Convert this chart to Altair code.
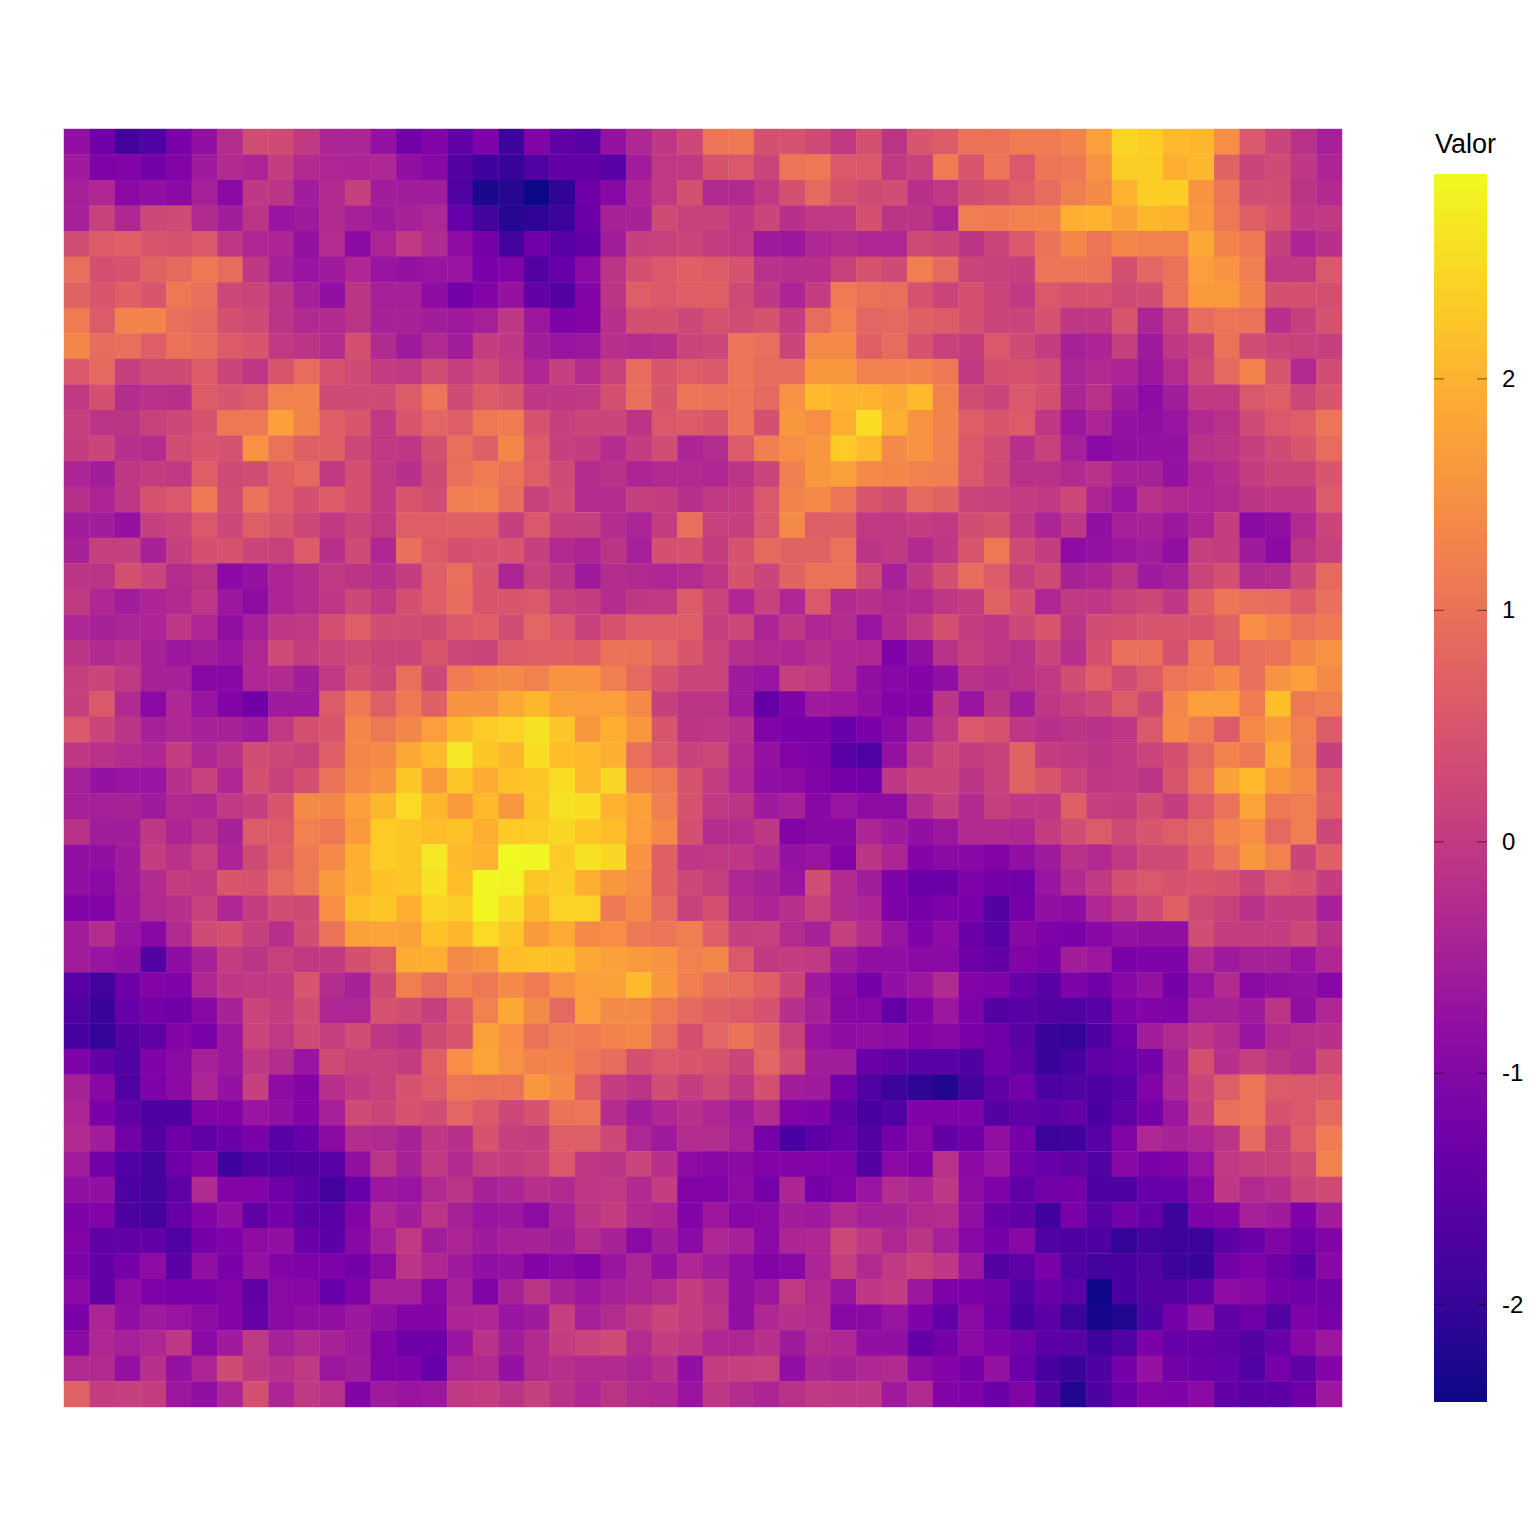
import altair as alt
import pandas as pd

R00 = [-0.8,-1.3,-1.85,-1.7,-1.15,-0.8,-0.25,0.35,0.3,0,-0.4,-0.4,-0.75,-1.25,-1.05,-1.5,-1.1,-1.95,-1.05,-1.5,-1.6,-0.75,-0.35,-0.05,0.25,1.05,1.1,0.4,0.45,0.3,0,0.4,-0.1,0.5,0.6,1,1,1.15,1.15,1.3,1.7,2.45,2.35,2.1,2.05,1.45,0.55,0.2,-0.15,-0.5]
R01 = [-0.6,-1.1,-1.05,-1.25,-1.05,-0.6,-0.3,-0.4,0.05,-0.3,-0.35,-0.4,-0.35,-0.8,-0.95,-1.65,-1.9,-2.0,-1.7,-1.45,-1.45,-1.6,-0.55,0,0,0.45,0.55,0.2,1.05,1.1,0.55,0.55,0,0.15,1.15,0.5,1.05,0.55,1.05,1.1,1.5,2.35,2.35,1.95,2.05,0.75,0.2,0.3,-0.05,-0.4]
R02 = [-0.5,-0.35,-0.9,-0.8,-0.9,-0.5,-0.9,-0.05,-0.1,-0.55,-0.3,0.1,-0.55,-0.55,-0.55,-1.7,-2.3,-2.2,-2.42,-2.1,-1.3,-0.95,-0.4,0,0.4,-0.3,-0.3,0,0.4,0.85,0.45,0.3,0.35,-0.2,0,0.35,0.45,0.65,0.9,1.2,1.4,2.0,2.35,2.35,1.55,1.05,0.35,0.35,-0.1,-0.3]
R03 = [-0.5,0.15,-0.35,0.25,0.3,-0.3,-0.55,-0.1,-0.7,-0.6,-0.3,-0.5,-0.6,-0.45,-0.35,-1.4,-1.85,-2.2,-2.1,-1.95,-1.35,-0.45,-0.45,0.3,0.15,0.15,-0.05,0.2,-0.2,0,0,0.4,-0.1,-0.1,-0.4,1.2,1.15,1.25,1.3,1.95,2.0,1.75,2.05,2.0,1.6,1.1,0.7,0.45,-0.05,0]
R04 = [0.35,0.6,0.7,0.5,0.45,0.55,-0.05,-0.35,-0.4,-0.75,-0.25,-0.9,-0.4,0,-0.3,-0.85,-1.2,-1.85,-1.3,-1.6,-1.45,-0.55,0.1,0.15,0.2,0.05,0,-0.6,-0.65,-0.35,-0.25,-0.35,-0.35,0.3,0.2,-0.1,0.2,0.55,1.0,1.35,1.05,1.35,1.25,1.25,1.85,1.3,1.1,0.1,-0.4,-0.2]
R05 = [0.95,0.4,0.45,0.75,0.85,1.1,0.9,-0.05,-0.5,-0.7,-0.6,-0.35,-0.7,-0.75,-0.7,-0.7,-1.15,-1.05,-1.65,-1.4,-0.9,-0.1,0.4,0.55,0.7,0.6,0.45,-0.15,-0.2,-0.2,0.15,0.45,0.3,1.2,0.85,0.2,0.15,0.1,1.05,1.05,1.0,0.4,0.8,1.0,1.7,1.55,1.2,0,0,0.55]
R06 = [0.75,0.5,0.7,0.5,1.1,0.95,0.25,0.2,-0.1,-0.5,-0.8,-0.1,-0.5,-0.5,-0.85,-1.25,-1.0,-0.75,-1.45,-1.65,-1.0,-0.1,0.65,0.55,0.65,0.7,0.3,-0.05,-0.4,0.05,1.15,1.0,0.95,0.45,0.2,0.4,0.2,0,0.55,0.45,0.45,0.3,0.35,1.0,1.65,1.65,1.3,0.4,0.4,0.4]
R07 = [1.15,0.6,1.3,1.3,0.95,0.85,0.4,0.3,-0.1,-0.3,-0.3,-0.1,-0.45,-0.45,-0.55,-0.6,-0.5,-0.05,-0.65,-1.1,-1.0,-0.2,0.4,0.4,0.25,0.45,0.35,0.45,0.05,0.9,1.25,0.8,0.85,0.7,0.6,0.4,0.2,0.2,0.45,-0.05,-0.05,0.5,-0.4,0.15,0.9,1.05,1.0,-0.2,0.1,0.45]
R08 = [1.35,0.9,0.95,0.65,1.0,0.9,0.6,0.5,0,-0.1,-0.25,0.4,-0.3,-0.6,-0.3,-0.55,0.05,-0.05,-0.55,-0.7,-0.65,-0.2,-0.25,-0.2,0.2,0.25,1.05,0.95,0.2,1.4,1.4,0.7,0.9,0.45,0.15,0.05,0.55,0.3,0.05,-0.45,-0.4,0.1,-0.6,-0.05,0.2,1.0,0.35,0.2,0.15,0.1]
R09 = [0.55,0.85,0.1,0.3,0.3,0.6,0.2,-0.05,0.5,0.9,0.45,0.3,0.05,0,0.35,0.1,0.3,0.05,-0.35,0.1,-0.25,0.15,0.9,0.5,0.65,0.55,1.05,0.9,0.9,1.6,1.6,1.25,1.25,1.3,1.1,0,0.4,0.45,0.35,-0.4,-0.3,-0.4,-0.65,-0.25,0.3,0.85,1.3,0.5,-0.3,0.35]
R10 = [0,0.4,-0.25,-0.15,-0.2,0.6,0.5,0.6,1.25,1.3,0.3,0.3,0.3,0.6,1.05,0.3,0.6,0.5,-0.05,-0.05,0,0.4,0.95,0.5,1.05,1.0,1.05,0.85,1.5,2.1,2.0,2.0,1.85,2.1,1.3,0.35,0.2,0.55,0.4,-0.4,-0.15,-0.6,-0.85,-0.55,0,0,0.55,0.65,0.25,0.5]
R11 = [0.1,-0.1,-0.1,0.15,0.25,0.45,1.1,1.1,1.7,1.3,0.65,0.5,0,0.5,0.8,0.65,1.1,1.15,0.45,0.1,0.2,0.2,-0.1,0.55,0.6,0.5,1.05,0.4,1.6,1.45,1.95,2.55,1.95,1.55,1.3,0.65,0.5,0.6,-0.05,-0.65,-0.4,-0.75,-0.8,-0.7,-0.3,-0.15,0.3,0.55,0.65,1.05]
R12 = [0.05,0.2,-0.2,-0.25,0.35,0.5,0.45,1.5,1.0,0.7,0.7,0.25,0,-0.05,0.4,0.95,0.7,1.35,0.6,0.1,0.05,-0.25,0.05,0.35,-0.4,-0.25,0.6,1.2,1.45,1.6,2.3,2.1,1.4,1.55,1.25,0.55,0.35,-0.2,0.15,-0.5,-0.9,-0.8,-0.75,-0.75,-0.15,-0.1,0.1,0.3,0.5,0.9]
R13 = [-0.4,-0.55,-0.05,0.05,0,0.65,0.3,0.35,0.7,0.85,0,0.4,0,-0.2,0.3,0.95,1.15,1.0,0.65,0.3,-0.25,-0.15,-0.4,-0.3,-0.3,-0.35,-0.1,0.2,1.2,1.6,1.75,1.4,1.35,1.25,1.2,0.55,0.3,-0.15,-0.15,-0.3,-0.15,-0.5,-0.45,-0.75,-0.4,-0.25,0.05,0.2,0.2,0.5]
R14 = [-0.2,-0.4,-0.05,0.45,0.55,1.1,0.35,1.0,0.65,0.4,0.6,0.4,0,0.5,0.35,1.2,1.25,0.9,0.15,0.35,-0.25,-0.25,0.1,0.05,-0.2,0,0.05,0.55,1.3,1.4,1.05,0.5,0.35,0.85,0.75,0.2,0.15,0.05,0,0.25,-0.4,-0.7,-0.15,-0.3,-0.35,-0.3,-0.1,-0.05,-0.05,0.6]
R15 = [-0.55,-0.55,-0.75,0.1,0.2,0.55,0.25,0.65,0.5,0.25,0,0.2,0,0.65,0.65,0.7,0.7,0.1,0.55,0.1,0.1,-0.25,-0.4,0.05,0.95,0.15,0.1,0.55,1.4,0.65,0.7,0,0,0.05,0,0.35,0.45,0,-0.4,-0.05,-0.8,-0.5,-0.45,-0.65,-0.4,0.05,-0.9,-0.8,-0.3,0.2]
R16 = [-0.45,0.1,0.1,-0.45,0.1,0.4,0.45,0.2,0.15,0.6,-0.2,0.3,-0.35,0.95,0.6,0.4,0.45,0.5,0.1,-0.3,-0.4,-0.1,-0.5,0.4,0.45,0.05,0.45,0.85,0.75,0.75,1.0,-0.1,0,-0.3,-0.05,0.5,1.1,0.3,0.05,-0.85,-0.75,-0.65,-0.55,-0.8,0.1,0.05,-0.6,-0.9,-0.1,0.15]
R17 = [-0.1,-0.1,0.4,0.2,-0.25,-0.1,-0.9,-0.75,-0.4,-0.25,0,-0.1,-0.2,0.05,0.65,0.95,0.5,-0.4,0.15,-0.1,-0.6,-0.25,-0.3,-0.35,-0.25,-0.05,0.45,0.2,0.75,1.0,1.0,0.3,-0.5,-0.05,0.4,0.9,0.6,0.1,0.3,-0.45,-0.4,-0.1,-0.6,-0.5,0.2,0.4,-0.3,-0.25,0.25,0.85]
R18 = [0,-0.35,-0.55,-0.4,-0.3,-0.05,-0.65,-0.85,-0.4,-0.25,-0.05,0.25,0,0.4,0.65,0.9,0.5,0.5,0.55,0.15,0.05,-0.25,-0.05,0,0.6,0.2,-0.35,0.15,-0.35,0.55,-0.3,-0.2,-0.3,-0.3,-0.05,0.05,0.75,0.4,-0.35,0,-0.05,0.15,0.25,-0.05,0.7,1.05,0.95,0.9,0.6,0.95]
R19 = [-0.35,-0.45,-0.4,-0.4,-0.05,-0.35,-0.8,-0.5,-0.05,0,0.4,0.65,0.35,0.35,0.3,0.55,0.65,0.35,0.8,0.55,0.15,0.45,0.65,0.65,0.65,0.1,0.25,-0.4,-0.05,-0.35,-0.25,-0.7,-0.3,0,0.4,0.05,-0.05,0.25,0.5,-0.1,0.35,0.4,0.5,0.5,0.5,0.75,1.45,1.3,1.0,1.1]
R20 = [-0.1,-0.3,-0.2,-0.45,-0.65,-0.55,-0.7,-0.35,0.3,0.05,0.2,0.3,0.2,0.2,0.5,0.25,0.2,0.6,0.65,0.7,0.6,1.0,1.0,0.8,0.5,0.2,-0.2,-0.3,-0.35,-0.2,-0.35,-0.35,-1.1,-0.8,-0.15,0.1,-0.05,-0.15,0.2,-0.2,0.4,0.95,0.95,0.45,1.1,0.65,0.95,1.0,1.35,1.5]
R21 = [0.1,0.2,0,-0.45,-0.5,-0.95,-0.95,-0.35,-0.3,-0.55,0,0.45,0.25,0.95,0.25,1.15,1.35,1.4,1.25,1.55,1.55,1.2,0.85,0.45,0.2,0.2,-0.6,-0.7,0.1,0,-0.35,-0.8,-0.95,-1.0,-0.8,-0.15,-0.25,-0.15,0,0.35,0.65,0.35,0.6,1.05,1.15,1.4,0.95,1.55,1.7,1.4]
R22 = [0.1,0.55,-0.3,-0.9,-0.35,-0.7,-1.05,-1.3,-0.6,-0.6,0.6,1.1,0.65,1.1,0.7,1.55,1.55,1.85,2.05,1.75,1.7,1.7,1.4,0.1,-0.1,-0.1,-0.6,-1.45,-1.1,-0.6,-0.65,-0.8,-1.05,-1.0,-0.1,-0.7,-0.1,-0.55,-0.05,0.1,0.25,0.6,0.25,1.35,1.7,1.7,1.15,2.15,1.1,1.2]
R23 = [0.55,0.2,-0.1,-0.5,-0.35,-0.5,-0.45,-0.6,0,0.4,0.5,1.35,1.1,1.35,1.7,2.1,2.3,2.4,2.6,2.25,1.6,1.95,1.6,0.5,-0.1,-0.05,-0.2,-1.05,-1.15,-1.15,-1.4,-1.15,-0.9,-0.5,0,0.55,0.45,-0.05,-0.2,-0.1,-0.15,-0.05,0.55,1.4,1.15,0.6,1.4,1.65,1.25,0.6]
R24 = [-0.05,-0.15,-0.25,-0.35,0.05,-0.35,-0.15,0.35,0.25,0.15,0.65,1.35,1.4,1.85,2.1,2.7,2.25,2.05,2.55,2.15,2.1,1.95,0.95,0.55,0.15,0.25,-0.3,-0.75,-1.05,-1.1,-1.6,-1.7,-0.75,-0.1,0.25,0.05,0.15,0.75,0.05,0,-0.1,0,0.2,0.4,0.85,1.3,1.1,1.9,1.2,0.1]
R25 = [-0.5,-0.75,-0.7,-0.7,-0.2,0.15,-0.35,0.4,0.15,0.4,1.0,1.4,1.55,2.25,1.65,2.25,1.9,2.2,2.25,2.55,2.1,2.45,1.3,1.1,0.45,0.05,-0.35,-0.8,-0.85,-1.05,-1.2,-1.25,-0.05,0.2,0.2,-0.1,0.15,0.75,0.5,0.2,-0.05,0,-0.1,0.5,1.0,1.75,2.1,1.6,1.4,0.6]
R26 = [-0.5,-0.5,-0.45,-0.6,-0.3,-0.35,0,0.1,0.5,1.4,1.35,1.7,2.05,2.5,2.05,1.65,2.1,1.6,2.25,2.6,2.55,2.0,1.75,1.2,0.45,0,-0.1,-0.6,-0.5,-0.95,-0.7,-0.85,-0.85,-0.25,0.1,-0.3,0.1,-0.05,-0.05,0.7,0.1,0.05,0.35,0.05,0.6,1.0,1.8,1.1,1.2,0.7]
R27 = [-0.15,-0.55,-0.55,-0.05,-0.4,-0.15,-0.45,0.6,0.6,1.25,1.1,1.65,2.3,2.25,2.15,2.2,1.95,2.3,2.35,2.45,2.25,2.15,1.7,1.4,0.4,-0.25,-0.25,-0.05,-1.05,-0.95,-0.95,-0.4,-0.6,-0.8,-0.65,-0.3,-0.3,-0.35,0.05,0.35,0.6,0.3,0.5,0.65,0.85,1.3,1.45,0.85,1.2,0.25]
R28 = [-0.8,-0.8,-0.6,0.05,-0.15,0.15,-0.4,0.3,0.7,1.1,1.4,1.95,2.3,2.25,2.7,2.1,2.0,2.9,2.85,2.3,2.6,2.45,1.55,0.7,-0.05,0,-0.05,-0.25,-0.75,-0.7,-1.05,-0.1,-0.4,-1.0,-0.9,-0.95,-1.05,-0.8,-0.6,-0.15,-0.3,0,0.3,0.3,0.7,1.05,1.6,1.25,0.2,0.7]
R29 = [-0.8,-0.9,-0.6,-0.3,0.05,0,0.5,0.45,0.85,1.1,1.65,1.95,2.2,2.25,2.6,2.15,2.85,2.8,2.25,2.35,1.95,1.6,1.45,0.7,0.25,0.1,-0.35,-0.45,-0.7,0.35,-0.3,-0.55,-1.1,-1.35,-1.35,-1.1,-1.2,-1.25,-0.7,-0.3,0,0.4,0.55,0.45,0.5,0.45,0.2,0.55,0.45,0.05]
R30 = [-1.05,-1.05,-0.65,-0.3,-0.2,0.15,-0.35,0.05,0.35,0.3,1.45,2.15,2.25,1.95,2.45,2.35,2.85,2.55,2.05,2.4,2.4,1.1,1.4,0.85,0.15,0.4,-0.25,-0.4,-0.2,0.15,-0.3,-0.4,-1.1,-1.2,-1.1,-1.15,-1.65,-1.2,-0.8,-0.85,-0.35,-0.05,0.3,0.7,0.3,0.15,-0.15,0.05,0.05,-0.5]
R31 = [-0.55,-0.25,-0.7,-0.95,-0.3,0.3,0.4,0.1,-0.2,0.35,1.0,1.75,1.8,1.75,2.2,2.05,2.5,2.25,1.65,1.9,1.4,1.45,1.1,1.05,1.2,0.65,0.1,0.15,-0.25,-0.45,0.1,-0.25,-0.7,-1.1,-0.85,-1.35,-1.6,-0.95,-1.1,-1.15,-0.95,-0.75,-0.8,-0.8,0.35,0.05,0.05,0.05,0.25,-0.15]
R32 = [-0.55,-0.7,-0.8,-1.65,-0.85,-0.5,0.05,-0.1,0.15,0,0,0.4,0.6,1.9,1.95,1.4,1.55,2.15,2.2,2.15,1.85,1.75,1.65,1.55,1.25,1.35,0.55,0,0.05,0,-0.6,-0.8,-0.8,-0.9,-0.9,-1.3,-1.45,-1.05,-1.15,-0.55,-0.65,-1.15,-1.1,-1.1,-0.3,-0.6,-0.45,-0.45,-0.7,-0.35]
R33 = [-1.6,-1.85,-1.3,-1,-1.1,-0.35,-0.05,0,0,0.5,-0.25,-0.45,0.3,1.2,0.9,1.25,1.1,1.4,1.15,1.5,1.7,1.75,2.1,1.6,1.2,0.95,0.9,0.7,0.2,-0.6,-0.9,-1.2,-0.8,-0.65,-0.3,-1.05,-1.1,-1.4,-1.6,-1.1,-1.3,-0.95,-0.75,-1.2,-0.7,-0.3,-0.9,-0.8,-0.75,-0.95]
R34 = [-1.7,-2.0,-1.4,-1.2,-1.3,-0.95,-0.45,0.2,0.05,0.35,-0.35,-0.35,0.45,0.35,0.1,0.6,1.25,1.85,1.4,0.85,1.7,1.4,1.4,1.1,0.85,0.7,0.6,0.45,-0.2,-0.45,-0.95,-0.95,-1.45,-1.05,-0.65,-1.1,-1.65,-1.6,-1.65,-1.7,-1.6,-1.1,-1.0,-1.1,-0.5,-0.45,-0.6,-0.1,-0.8,-0.35]
R35 = [-1.8,-2.05,-1.65,-1.5,-1.0,-1.15,-0.65,0.2,0,0.3,0.1,0.35,-0.05,-0.2,0.3,0.5,1.75,1.45,1.0,1.2,1.15,1.3,1.35,0.9,0.4,0.8,1.0,0.75,0.15,-0.7,-0.85,-0.8,-0.85,-1.0,-0.95,-1.15,-1.3,-1.6,-2.0,-2.05,-1.75,-1.3,-0.55,-0.3,-0.05,-0.25,-0.7,-0.3,-0.2,-0.2]
R36 = [-1.1,-1.45,-1.7,-1.1,-0.9,-0.5,-0.65,-0.05,-0.25,-0.7,0.3,0.15,0.15,0.05,0.7,1.45,1.8,1.5,1.3,1.3,1.05,0.9,0.4,0.55,0.5,0.45,0.2,0.8,0.35,-0.55,-0.55,-1.35,-1.5,-1.6,-1.6,-1.75,-1.3,-1.5,-2.0,-1.8,-1.5,-1.4,-1.25,-0.45,0.4,-0.2,0.1,-0.1,-0.25,0.3]
R37 = [-0.45,-0.95,-1.7,-1.1,-0.9,-0.4,-0.75,0.1,-0.85,-1.0,-0.2,0,0.15,0.45,0.6,1.05,1.0,1.0,1.6,1.4,0.65,0.05,-0.1,0.35,0.05,0.3,-0.05,0.4,-0.55,-0.6,-1.25,-1.7,-1.95,-2.1,-2.25,-1.85,-1.5,-1.25,-1.75,-1.7,-1.75,-1.6,-1.05,-0.4,0.2,0.65,1.05,0.6,0.55,0.55]
R38 = [-0.4,-1.15,-1.5,-1.75,-1.75,-1.05,-1.0,-0.7,-0.8,-1.0,-0.5,0.3,0.2,0.45,0.35,0.8,0.55,0.25,0.45,1.0,1.05,-0.25,-0.55,-0.35,-0.2,-0.35,-0.55,-0.25,-1.05,-1.1,-1.5,-1.8,-1.7,-1.1,-1.1,-1.1,-1.65,-1.5,-1.55,-1.45,-1.8,-1.5,-1.2,-0.65,0.1,0.95,1.05,0.45,0.55,0.85]
R39 = [-0.3,-0.55,-1.25,-1.65,-1.3,-1.5,-1.35,-1.15,-1.6,-1.4,-0.9,-0.25,-0.3,-0.45,-0.05,-0.2,0.45,0.1,0.05,0.65,0.65,0.25,-0.35,-0.6,-0.25,-0.25,-0.5,-1.2,-1.8,-1.55,-1.35,-1.65,-1.2,-0.95,-1.45,-1.3,-0.8,-1.2,-1.95,-1.9,-1.6,-1.05,-0.35,-0.45,-0.35,-0.1,0.85,0.15,0.65,1.15]
R40 = [-0.55,-1.25,-1.7,-1.85,-1.3,-1.0,-1.9,-1.7,-1.7,-1.65,-1.6,-0.8,-0.1,-0.45,0,-0.3,0.1,0.05,0.15,0.55,-0.05,-0.1,0.2,-0.2,-0.85,-0.95,-0.9,-1.05,-1.0,-1.0,-1.1,-1.65,-0.9,-1.0,-0.15,-0.9,-0.7,-1.25,-1.4,-1.5,-1.7,-0.95,-1.15,-1.1,-0.7,0,0.1,0.15,0.35,1.25]
R41 = [-0.8,-0.8,-1.75,-1.85,-1.5,-0.3,-1.0,-1.0,-1.3,-1.55,-1.85,-1.4,-0.65,-0.7,-0.3,-0.1,-0.45,-0.4,-0.2,-0.3,-0.05,0,-0.3,0.05,-1.05,-1.05,-0.85,-1.2,-0.4,-1.2,-1.05,-0.7,-0.25,-0.4,-0.05,-0.85,-1.1,-1.5,-1.25,-1.2,-1.75,-1.75,-1.4,-1.4,-0.95,-0.05,-0.3,-0.2,0.2,0.3]
R42 = [-1.1,-1.05,-1.75,-1.85,-1.4,-1.0,-0.8,-1.5,-1.2,-1.55,-1.6,-1.05,-0.35,-0.55,-0.1,-0.45,-0.7,-0.65,-0.85,-0.5,-0.1,0.05,-0.3,-0.4,-1.05,-0.65,-0.95,-0.9,-0.55,-0.6,-0.3,-0.5,-0.45,-0.3,-0.25,-0.8,-1.35,-1.5,-1.9,-1.15,-1.6,-1.25,-1.45,-1.95,-1.1,-1.0,-0.5,-0.6,-1.1,-0.55]
R43 = [-1.05,-1.5,-1.45,-1.45,-1.7,-1.2,-1.1,-0.85,-0.8,-1.35,-1.55,-0.95,-0.5,0,-0.55,-0.4,-0.6,-0.5,-0.45,-0.55,-0.25,-0.45,-0.9,-0.55,-0.9,-0.35,-0.5,-0.9,-0.4,-0.35,0.25,-0.05,-0.35,-0.1,-0.5,-0.95,-1.2,-0.95,-1.7,-1.75,-1.75,-2.05,-1.85,-1.95,-1.95,-1.55,-1.35,-1.05,-1.3,-1.05]
R44 = [-1.1,-1.45,-1.2,-0.85,-1.55,-0.8,-1.15,-0.75,-1.0,-1.1,-1.1,-1.25,-0.85,-0.1,-0.35,-0.6,-0.8,-0.75,-1.0,-0.9,-1.0,-0.7,-0.4,-0.75,-0.35,-0.55,-0.8,-1.05,-0.95,-0.4,0.1,-0.3,0,0.15,-0.05,-0.65,-1.65,-1.5,-1.15,-1.7,-1.85,-1.8,-1.7,-1.95,-2.0,-1.25,-1.1,-1.3,-1.55,-0.95]
R45 = [-0.9,-1.45,-0.85,-1.1,-1.15,-1.15,-1.05,-1.5,-0.9,-0.95,-1.4,-1.1,-0.5,-0.5,-0.95,-0.5,-1.05,-0.45,-0.1,-0.45,-0.65,-0.5,-0.4,-0.25,0.05,-0.2,-0.8,-0.65,0,-0.3,-0.7,-0.05,0.05,-0.65,-1.1,-1.15,-1.25,-1.7,-1.35,-1.55,-2.4,-1.8,-1.65,-1.65,-1.5,-0.85,-0.95,-1.2,-1.3,-1.25]
R46 = [-1.15,-0.4,-0.8,-0.6,-0.7,-0.85,-1.0,-1.45,-0.9,-0.8,-0.8,-0.65,-0.8,-1.0,-1.0,-0.4,-0.35,-0.7,-0.6,0.1,-0.5,-0.25,-0.05,0.2,0.05,-0.1,-0.8,-0.35,-0.2,-0.25,-0.95,-0.9,-0.7,-1.1,-1.45,-0.9,-1.3,-1.8,-1.55,-1.95,-2.35,-2.25,-1.75,-1.2,-0.8,-1.5,-1.3,-1.7,-1.1,-1.2]
R47 = [-0.9,-0.35,-0.5,-0.35,-0.05,-0.9,-0.6,0,-0.5,-0.3,-0.45,-0.6,-1.05,-1.3,-1.3,-0.7,-0.15,-0.55,-0.3,0.05,0.2,0.3,-0.25,0.05,-0.05,-0.35,-0.35,-0.2,-0.6,-0.25,-0.35,-0.8,-0.8,-1.45,-1.2,-0.9,-1.1,-1.25,-1.55,-1.6,-1.9,-1.7,-1.15,-1.4,-1.4,-1.5,-1.65,-1.4,-0.95,-0.65]
R48 = [-0.3,-0.3,-0.75,-0.2,-0.75,-0.4,0.3,-0.05,-0.2,0,-0.65,-0.55,-1.05,-1.1,-1.4,-0.35,-0.3,-0.75,-0.3,-0.2,-0.3,-0.3,-0.4,-0.2,-0.8,0.05,0.1,0.15,-0.8,-0.4,-0.45,-0.35,-0.3,-0.85,-1.0,-1.2,-0.75,-1.35,-1.8,-2.0,-1.75,-1.2,-0.75,-1.25,-1.35,-1.4,-1.7,-1.2,-1.5,-1.0]
R49 = [0.75,0.05,0.1,0.05,-0.65,-0.8,-0.4,0.4,-0.4,0,-0.15,-1.0,-0.6,-0.7,-0.65,0,0.05,-0.1,0.1,-0.15,-0.35,-0.1,-0.3,-0.35,-0.7,-0.05,-0.25,-0.4,-0.15,0,-0.05,-0.05,-0.6,-0.3,-1.05,-1.1,-1.35,-1.05,-1.65,-2.25,-1.75,-1.35,-1.0,-1.1,-0.9,-1.45,-1.55,-1.55,-1.3,-0.65]

ROWS = [R00,R01,R02,R03,R04,R05,R06,R07,R08,R09,R10,R11,R12,R13,R14,R15,R16,R17,R18,R19,
        R20,R21,R22,R23,R24,R25,R26,R27,R28,R29,R30,R31,R32,R33,R34,R35,R36,R37,R38,R39,
        R40,R41,R42,R43,R44,R45,R46,R47,R48,R49]
LEGEND_TICKS = [-2, -1, 0, 1, 2]
LEGEND_LABELS = ["-2", "-1", "0", "1", "2"]
DOMAIN = [-2.42, 2.885]
PLASMA = ["#0d0887", "#41049d", "#6a00a8", "#8f0da4", "#b12a90", "#cc4778",
          "#e16462", "#f2844b", "#fca636", "#fcce25", "#f0f921"]

records = [{"fila": r, "columna": c, "valor": v}
           for r, row in enumerate(ROWS) for c, v in enumerate(row)]
df = pd.DataFrame(records)
ticks = pd.DataFrame({"t": LEGEND_TICKS, "lab": LEGEND_LABELS})
bar = pd.DataFrame({"lo": [DOMAIN[0]], "hi": [DOMAIN[1]]})
title = pd.DataFrame({"txt": ["Valor"]})

heat = alt.Chart(df).mark_rect(width=26, height=26).encode(
    x=alt.X("columna:O", axis=None, scale=alt.Scale(paddingInner=0, paddingOuter=0)),
    y=alt.Y("fila:O", axis=None, scale=alt.Scale(paddingInner=0, paddingOuter=0)),
    color=alt.Color("valor:Q", scale=alt.Scale(scheme="plasma", domain=DOMAIN, clamp=True), legend=None),
)
bar_scale = alt.Scale(domain=DOMAIN, range=[1273, 45])
gradient = {
    "gradient": "linear", "x1": 0, "x2": 0, "y1": 1, "y2": 0,
    "stops": [{"offset": i / (len(PLASMA) - 1), "color": c} for i, c in enumerate(PLASMA)],
}
colorbar = alt.Chart(bar).mark_rect(fill=gradient, clip=False).encode(
    y=alt.Y("lo:Q", axis=None, scale=bar_scale), y2="hi:Q",
    x=alt.value(1370), x2=alt.value(1423))
tick_y = alt.Y("t:Q", axis=None, scale=bar_scale)
left = alt.Chart(ticks).mark_rule(color="black", opacity=0.55, strokeWidth=1, clip=False).encode(
    y=tick_y, x=alt.value(1370), x2=alt.value(1380))
right = alt.Chart(ticks).mark_rule(color="black", opacity=0.55, strokeWidth=1, clip=False).encode(
    y=tick_y, x=alt.value(1413), x2=alt.value(1423))
labels = alt.Chart(ticks).mark_text(
    font="Liberation Sans", fontSize=24, color="black", align="left", baseline="middle", dy=1, clip=False
).encode(y=tick_y, x=alt.value(1438), text="lab:N")
legend_title = alt.Chart(title).mark_text(
    font="Liberation Sans", fontSize=27, color="black", align="left", baseline="alphabetic", clip=False
).encode(x=alt.value(1371), y=alt.value(24), text="txt:N")

chart = alt.layer(heat, colorbar, left, right, labels, legend_title).resolve_scale(
    y="independent", x="independent"
).properties(
    width=1278, height=1278,
    padding={"left": 55, "top": 120, "right": 0, "bottom": 0},
).configure_view(strokeWidth=0)
chart.save("out.html", embed_options={"renderer": "svg", "actions": False})
